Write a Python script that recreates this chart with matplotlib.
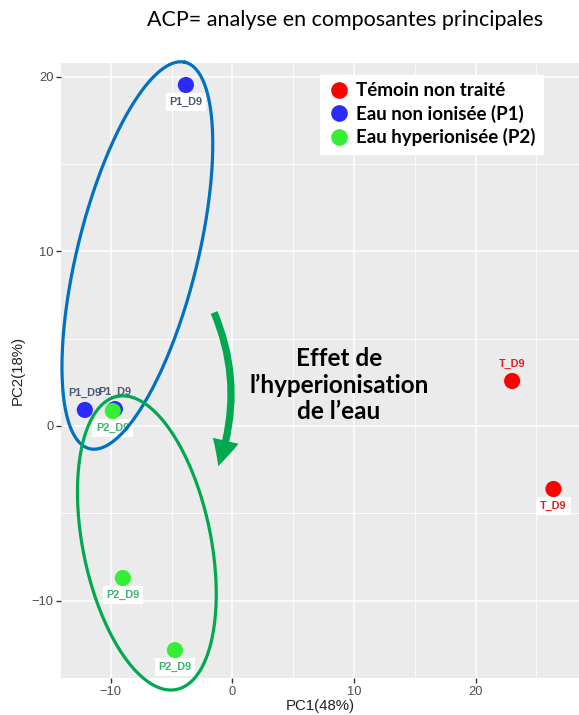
import numpy as np
import matplotlib
matplotlib.use("Agg")
import matplotlib.pyplot as plt
from matplotlib.patches import FancyArrowPatch, ArrowStyle
from matplotlib.lines import Line2D
from matplotlib.ticker import MultipleLocator

# ---- data ----
labels = ["P1_D9", "P1_D9", "P1_D9", "P2_D9", "P2_D9", "P2_D9", "T_D9", "T_D9"]
groups = ["P1", "P1", "P1", "P2", "P2", "P2", "T", "T"]
pc1 = [-3.83, -12.14, -9.67, -9.84, -9.01, -4.73, 23.0, 26.4]
pc2 = [19.54, 0.92, 0.97, 0.86, -8.71, -12.84, 2.58, -3.61]
label_pos = ["below", "above", "above", "below", "below", "below", "above", "below"]
label_box = [True, False, False, True, True, True, False, True]

legend_names = ["Témoin non traité", "Eau non ionisée (P1)", "Eau hyperionisée (P2)"]
legend_groups = ["T", "P1", "P2"]
point_colors = {"T": "#FF0000", "P1": "#2B2BFF", "P2": "#33F033"}
label_colors = {"T": "#E02020", "P1": "#4A5878", "P2": "#3DB36E"}

x_ticks = [-10, 0, 10, 20]
y_ticks = [-10, 0, 10, 20]

# ---- figure ----
W, H = 579, 715
fig = plt.figure(figsize=(W / 100, H / 100), dpi=100)
L, R, T, B = 61, 579, 63, 678
ax = fig.add_axes([L / W, 1 - B / H, (R - L) / W, (B - T) / H])
ax.set_facecolor("#EBEBEB")
ax.set_xlim(-14.1, 28.5)
ax.set_ylim(-14.44, 20.8)
for s in ax.spines.values():
    s.set_visible(False)

ax.set_xticks(x_ticks)
ax.set_yticks(y_ticks)
ax.xaxis.set_minor_locator(MultipleLocator(5))
ax.yaxis.set_minor_locator(MultipleLocator(5))
ax.grid(True, which="major", color="white", lw=1.1)
ax.grid(True, which="minor", color="white", lw=0.6)
ax.set_axisbelow(True)
ax.tick_params(which="major", length=3.5, width=1.0, color="#333333",
               labelsize=9.3, labelcolor="#4D4D4D", pad=2)
ax.tick_params(which="minor", length=0)
ax.set_xticklabels([str(v).replace("-", "\u2212") for v in x_ticks], family="Liberation Sans")
ax.set_yticklabels([str(v).replace("-", "\u2212") for v in y_ticks], family="Liberation Sans")
fig.text((L + R) / 2 / W, 1 - 706 / H, "PC1(48%)", ha="center", va="center",
         fontsize=10.8, family="Liberation Sans", color="#222222")
ax.set_ylabel("PC2(18%)", fontsize=10.8, family="Liberation Sans", color="#222222", labelpad=5)

# points
for x, y, g in zip(pc1, pc2, groups):
    ax.scatter(x, y, s=135, color=point_colors[g], edgecolors="none", zorder=3)

# labels
for x, y, t, g, p, bx in zip(pc1, pc2, labels, groups, label_pos, label_box):
    off = -12 if p == "below" else 12
    kw = {}
    if bx:
        kw["bbox"] = dict(boxstyle="square,pad=0.35", fc="white", ec="none")
    ax.annotate(t, (x, y), xytext=(0, off), textcoords="offset points",
                ha="center", va="center", fontsize=7.8, fontweight="bold",
                family="Liberation Sans", color=label_colors[g], zorder=4, **kw)

# ellipses (drawn in pixel units around a data centre)
sx, sy = 12.15, 17.45  # pixels per data unit


def draw_ellipse(cx, cy, a, b, theta_deg, color):
    t = np.linspace(0, 2 * np.pi, 300)
    th = np.deg2rad(theta_deg)
    dx = a * np.cos(th) * np.cos(t) - b * np.sin(th) * np.sin(t)
    dy = a * np.sin(th) * np.cos(t) + b * np.cos(th) * np.sin(t)
    ax.plot(cx + dx / sx, cy + dy / sy, color=color, lw=2.3, clip_on=False, zorder=5)


draw_ellipse(-7.82, 9.77, 199, 60, 76.1, "#0070C0")
draw_ellipse(-7.04, -6.70, 149.5, 64, 101.4, "#00A84F")

# arrow
arrow = FancyArrowPatch((-1.6, 6.65), (-1.25, -2.45),
                        connectionstyle="arc3,rad=-0.2",
                        arrowstyle=ArrowStyle.Simple(head_length=1.9, head_width=1.9, tail_width=0.52),
                        mutation_scale=10, color="#00A84F", lw=0, zorder=5)
ax.add_patch(arrow)

ax.text(8.77, 2.35, "Effet de\nl\u2019hyperionisation\nde l\u2019eau", ha="center", va="center",
        fontsize=17.5, fontweight="bold", family="Lato", color="black",
        linespacing=1.2, zorder=6)

# legend
handles = [Line2D([], [], marker="o", ls="none", markersize=12,
                  markerfacecolor=point_colors[g], markeredgecolor="none")
           for g in legend_groups]
leg = ax.legend(handles, legend_names, loc="upper left", bbox_to_anchor=(0.5, 0.9805),
                borderaxespad=0, frameon=True, fancybox=False, framealpha=1,
                edgecolor="white", facecolor="white",
                prop={"family": "Lato", "weight": "bold", "size": 13.5},
                handletextpad=0.3, labelspacing=0.28, borderpad=0.4, handlelength=1.2)
leg.set_zorder(7)

# title
fig.text(345 / W, 1 - 20 / H, "ACP= analyse en composantes principales", ha="center", va="center",
         fontsize=15.5, family="Lato", color="black")

fig.savefig("out.png", dpi=100)
